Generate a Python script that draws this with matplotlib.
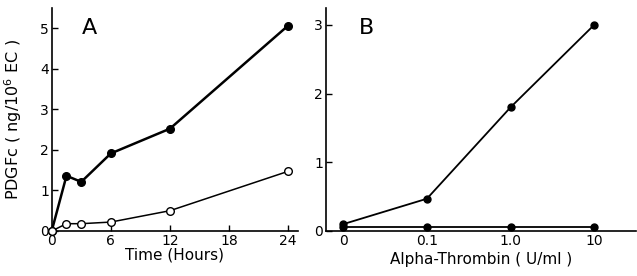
import matplotlib
matplotlib.use("Agg")
import matplotlib.pyplot as plt

# Panel A data
time_hours = [0, 1.5, 3, 6, 12, 24]
pdgf_filled_A = [0, 1.36, 1.21, 1.91, 2.52, 5.06]
pdgf_open_A = [0, 0.18, 0.18, 0.22, 0.50, 1.47]
xticks_A = [0, 6, 12, 18, 24]
yticks_A = [0, 1, 2, 3, 4, 5]

# Panel B data
thrombin_labels = ["0", "0.1", "1.0", "10"]
pdgf_upper_B = [0.10, 0.47, 1.80, 3.00]
pdgf_lower_B = [0.06, 0.06, 0.06, 0.06]
yticks_B = [0, 1, 2, 3]

plt.rcParams['font.family'] = ['DejaVu Sans']
fig = plt.figure(figsize=(6.37, 2.76), dpi=100)

axA = fig.add_axes([51.7/637, 1-231/276, (298-51.7)/637, (231-7.7)/276])
axB = fig.add_axes([325.7/637, 1-231/276, (636-325.7)/637, (231-7.7)/276])

for ax in (axA, axB):
    ax.spines['top'].set_visible(False)
    ax.spines['right'].set_visible(False)
    ax.spines['left'].set_linewidth(1.2)
    ax.spines['bottom'].set_linewidth(1.2)
    ax.tick_params(direction='in', length=4, width=1, labelsize=10, pad=2)

# Panel A
axA.plot(time_hours, pdgf_filled_A, color='black', lw=1.8, marker='o', ms=5.5,
         mfc='black', mec='black', clip_on=False, zorder=3)
axA.plot(time_hours, pdgf_open_A, color='black', lw=1.1, marker='o', ms=5.5,
         mfc='white', mec='black', mew=1.0, clip_on=False, zorder=3)
axA.set_xlim(0, 25)
axA.set_ylim(0, 5.5)
axA.set_xticks(xticks_A)
axA.set_yticks(yticks_A)
axA.set_xlabel("Time (Hours)", fontsize=11, labelpad=0)
axA.set_ylabel("PDGFc ( ng/10$^6$ EC )", fontsize=11.5)
axA.yaxis.set_label_coords(-(51.7-24)/246.3, 0.5)
axA.text(0.155, 0.91, "A", transform=axA.transAxes, fontsize=16,
         ha='center', va='center')

# Panel B
xpos = list(range(len(thrombin_labels)))
axB.plot(xpos, pdgf_upper_B, color='black', lw=1.3, marker='o', ms=5,
         mfc='black', mec='black', clip_on=False, zorder=3)
axB.plot(xpos, pdgf_lower_B, color='black', lw=1.3, marker='o', ms=5,
         mfc='black', mec='black', clip_on=False, zorder=3)
axB.set_xlim(-0.21, 3.5)
axB.set_ylim(0, 3.25)
axB.set_xticks(xpos)
axB.set_xticklabels(thrombin_labels)
axB.tick_params(axis='x', length=0)
axB.set_yticks(yticks_B)
axB.set_xlabel("Alpha-Thrombin ( U/ml )", fontsize=11, labelpad=3)
axB.text(0.133, 0.91, "B", transform=axB.transAxes, fontsize=16,
         ha='center', va='center')

fig.savefig("out.png", dpi=100)
